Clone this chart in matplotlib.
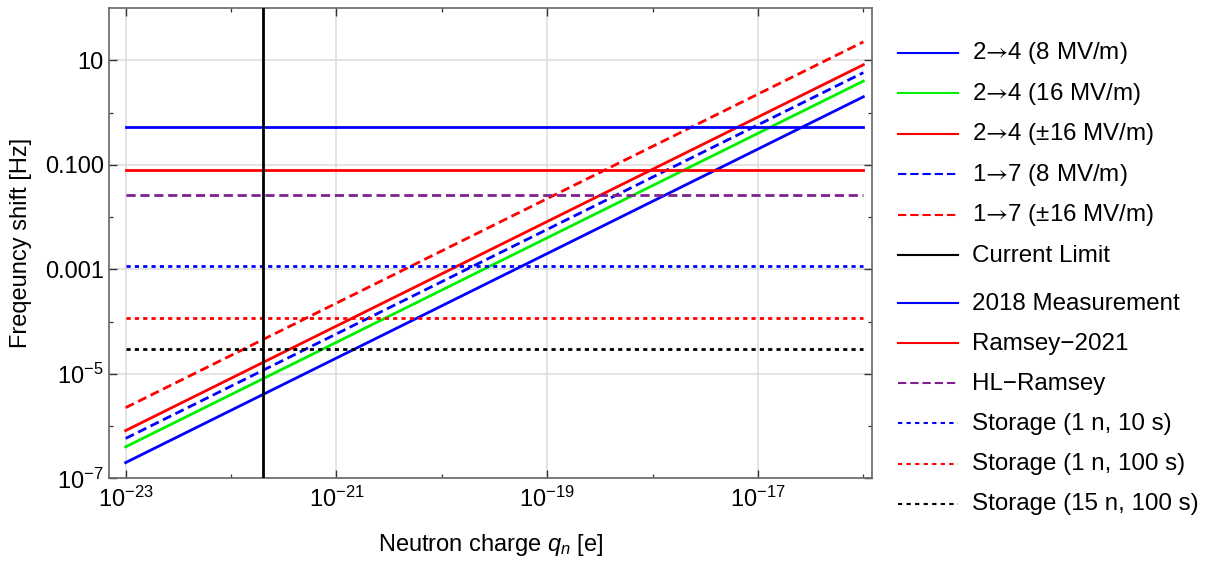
import matplotlib
matplotlib.use("Agg")
import matplotlib.pyplot as plt
from matplotlib.ticker import FixedLocator, FixedFormatter, NullFormatter
from matplotlib.lines import Line2D

plt.rcParams['font.family'] = ['Liberation Sans', 'DejaVu Sans']
plt.rcParams['mathtext.fontset'] = 'custom'
plt.rcParams['mathtext.rm'] = 'Liberation Sans'
plt.rcParams['mathtext.it'] = 'Liberation Sans:italic'
plt.rcParams['mathtext.sf'] = 'Roboto'
plt.rcParams['mathtext.default'] = 'regular'

ARROW = "$\\mathsf{\u2192}$"

# Neutron charge range spanned by the projected sensitivities [e]
q_range = [1e-23, 1e-16]

# Frequency shift at the two ends of the charge range [Hz]
shift_labels = ["2" + ARROW + "4 (8 MV/m)", "2" + ARROW + "4 (16 MV/m)",
                "2" + ARROW + "4 (\u00b116 MV/m)",
                "1" + ARROW + "7 (8 MV/m)", "1" + ARROW + "7 (\u00b116 MV/m)"]
shift_values = [
    [2.0e-7, 2.0],
    [4.0e-7, 4.0],
    [8.2e-7, 8.2],
    [5.8e-7, 5.8],
    [2.25e-6, 22.5],
]
shift_colors = ["#0000ff", "#00f000", "#ff0000", "#0000ff", "#ff0000"]
shift_styles = ["solid", "solid", "solid", "dashed", "dashed"]

# Existing bound on the neutron charge [e]
current_limit = 2.0e-22

# Frequency resolution of measurements and storage scenarios [Hz]
sens_labels = ["2018 Measurement", "Ramsey\u22122021", "HL\u2212Ramsey",
               "Storage (1 n, 10 s)", "Storage (1 n, 100 s)", "Storage (15 n, 100 s)"]
sens_values = [0.54, 0.080, 0.026, 1.17e-3, 1.15e-4, 3.0e-5]
sens_colors = ["#0000ff", "#ff0000", "#80208f", "#0000ff", "#ff0000", "#000000"]
sens_styles = ["solid", "solid", "dashed", "dotted", "dotted", "dotted"]

x_ticks = [1e-23, 1e-21, 1e-19, 1e-17]
x_ticklabels = [r"$10^{-23}$", r"$10^{-21}$", r"$10^{-19}$", r"$10^{-17}$"]
x_minor = [1e-22, 1e-20, 1e-18, 1e-16]
y_ticks = [10, 0.1, 0.001, 1e-5, 1e-7]
y_ticklabels = ["10", "0.100", "0.001", r"$10^{-5}$", r"$10^{-7}$"]
y_minor = [1, 0.01, 1e-4, 1e-6]

W, H = 1208, 561
FS = 17
LEG_FS = 17.4
LW = 2.0
LEG_LW = 1.5

PLOT_DASH = {"solid": "solid", "dashed": (0, (3.3, 1.7)), "dotted": (0, (1.5, 1.5))}
LEG_DASH = {"solid": "solid", "dashed": (0, (4.0, 1.87)), "dotted": (0, (2.05, 2.05))}

fig = plt.figure(figsize=(W / 100, H / 100), dpi=100)
ax = fig.add_axes([0.0905, 0.1474, 0.6311, 0.8383])

ax.set_xscale("log")
ax.set_yscale("log")
ax.set_xlim(7.0e-24, 1.2e-16)
ax.set_ylim(1e-7, 100)

# projected frequency shifts versus neutron charge
for vals, col, sty in zip(shift_values, shift_colors, shift_styles):
    ax.plot(q_range, vals, color=col, lw=LW, linestyle=PLOT_DASH[sty], zorder=3)

# frequency sensitivities as horizontal levels
for val, col, sty in zip(sens_values, sens_colors, sens_styles):
    ax.plot(q_range, [val, val], color=col, lw=LW, linestyle=PLOT_DASH[sty], zorder=3)

ax.axvline(current_limit, color="black", lw=LW, zorder=4)

ax.xaxis.set_major_locator(FixedLocator(x_ticks))
ax.xaxis.set_major_formatter(FixedFormatter(x_ticklabels))
ax.xaxis.set_minor_locator(FixedLocator(x_minor))
ax.xaxis.set_minor_formatter(NullFormatter())
ax.yaxis.set_major_locator(FixedLocator(y_ticks))
ax.yaxis.set_major_formatter(FixedFormatter(y_ticklabels))
ax.yaxis.set_minor_locator(FixedLocator(y_minor))
ax.yaxis.set_minor_formatter(NullFormatter())

ax.tick_params(which="both", direction="in", top=True, right=True,
               color="#333333", labelsize=FS)
ax.tick_params(which="major", length=5.5, width=1.0)
ax.tick_params(axis="x", which="major", pad=6)
ax.tick_params(axis="y", which="major", pad=4)
ax.tick_params(which="minor", length=3.0, width=0.9)
for sp in ax.spines.values():
    sp.set_color("#666666")
    sp.set_linewidth(1.2)

ax.grid(True, which="major", color="#dcdcdc", lw=1.1, zorder=0)
ax.set_axisbelow(True)

ax.set_xlabel(r"Neutron charge $\it{q_n}$ [e]", fontsize=FS, labelpad=14.5)
ax.set_ylabel("Freqeuncy shift [Hz]", fontsize=FS, labelpad=9)

# two-block legend to the right of the axes (pixel layout, top-down)
def legend_block(entries, top, step):
    for i, (lab, col, sty) in enumerate(entries):
        yc = top + i * step
        yf = 1 - yc / H
        fig.add_artist(Line2D([898 / W, 958 / W], [yf, yf], transform=fig.transFigure,
                              color=col, lw=LEG_LW, linestyle=LEG_DASH[sty]))
        fig.text(972 / W, 1 - (yc + 6.5) / H, lab, fontsize=LEG_FS, va="baseline", ha="left")

block1 = list(zip(shift_labels, shift_colors, shift_styles)) + [("Current Limit", "#000000", "solid")]
block2 = list(zip(sens_labels, sens_colors, sens_styles))
legend_block(block1, 52.7, 40.5)
legend_block(block2, 303.3, 40.05)

fig.savefig("out.png", dpi=100)
